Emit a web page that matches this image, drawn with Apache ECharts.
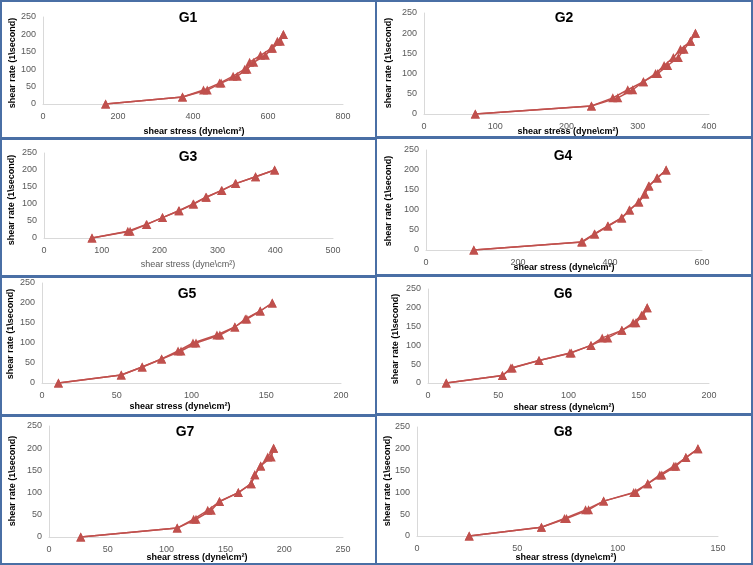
<!DOCTYPE html>
<html><head><meta charset="utf-8">
<script src="https://cdn.jsdelivr.net/npm/echarts@6/dist/echarts.min.js"></script>
<style>html,body{margin:0;padding:0;background:#fff}#c{width:753px;height:565px}</style>
</head><body><div id="c"></div>
<script>
// ---- data ----
const panelTitles = ['G1','G2','G3','G4','G5','G6','G7','G8'];
const shearRate = [0,20,40,60,80,100,120,140,160,180,200];
const g1Up   = [167,372,428,471,507,538,551,580,609,625,641];
const g1Down = [167,372,438,475,518,544,562,593,612,633,641];
const g2Up   = [72,235,265,286,308,325,337,350,360,374,381];
const g2Down = [72,235,272,293,308,328,342,357,365,374,381];
const g3Up   = [83,145,177,205,233,258,280,307,331,366,399];
const g3Down = [83,149,178,205,234,259,281,308,332,366,399];
const g4Up   = [104,338,366,395,425,442,462,475,484,502,522];
const g4Down = [104,340,367,396,426,443,463,476,485,503,522];
const g5Up   = [11,53,67,80,91,101,117,129,136,146,154];
const g5Down = [11,53,67,80,93,103,119,129,137,146,154];
const g6Up   = [13,53,59,79,101,116,124,138,146,152,156];
const g6Down = [13,53,60,79,102,116,128,138,148,153,156];
const g7Up   = [27,109,123,135,145,161,172,175,180,186,191];
const g7Down = [27,109,125,138,145,161,172,175,180,189,191];
const g8Up   = [26,62,73.5,84,93,108,115,121,128,134,140];
const g8Down = [26,62,74.5,85.5,93,109,115,122,129,134,140];
const xMaxes = [800,400,500,600,200,200,250,150];
const xIntervals = [200,100,100,200,50,50,50,50];
const yMax = 250, yInterval = 50;
const xAxisTitle = 'shear stress (dyne\\cm²)';
const yAxisTitle = 'shear rate (1\\second)';

const ups = [g1Up,g2Up,g3Up,g4Up,g5Up,g6Up,g7Up,g8Up];
const downs = [g1Down,g2Down,g3Down,g4Down,g5Down,g6Down,g7Down,g8Down];

// ---- layout ----
const layout = [
  {grid:[43,17,300,87],  title:[188,18],  xt:[194,132],   yt:[13,63],    xBold:true},
  {grid:[424,13,285,101],title:[564,18],  xt:[568,132],   yt:[389,63],   xBold:true},
  {grid:[44,153,289,85], title:[188,157], xt:[188,265],   yt:[12,200],   xBold:false},
  {grid:[426,150,276,100],title:[563,156],xt:[564,268],   yt:[389,201],  xBold:true},
  {grid:[42,283,299,100],title:[187,294], xt:[180,407],   yt:[11,334],   xBold:true},
  {grid:[428,289,281,94],title:[563,294], xt:[564,408],   yt:[396,339],  xBold:true},
  {grid:[49,426,294,111],title:[185,432], xt:[197,558],   yt:[13,481],   xBold:true},
  {grid:[417,427,301,109],title:[563,432],xt:[566,558],   yt:[388,481],  xBold:true}
];

const RED = '#c0504d';
const FONT = '"Liberation Sans", Arial, sans-serif';
const grid = [], xAxis = [], yAxis = [], series = [], graphic = [];

layout.forEach((p, i) => {
  grid.push({left:p.grid[0], top:p.grid[1], width:p.grid[2], height:p.grid[3], containLabel:false});
  xAxis.push({type:'value', gridIndex:i, min:0, max:xMaxes[i], interval:xIntervals[i],
    axisLine:{show:true, lineStyle:{color:'#d9d9d9', width:1}}, axisTick:{show:false}, splitLine:{show:false},
    axisLabel:{color:'#595959', fontSize:9, fontFamily:FONT, margin:8}});
  yAxis.push({type:'value', gridIndex:i, min:0, max:yMax, interval:yInterval,
    axisLine:{show:true, lineStyle:{color:'#d9d9d9', width:1}}, axisTick:{show:false}, splitLine:{show:false},
    axisLabel:{color:'#595959', fontSize:9, fontFamily:FONT, margin:7}});
  [ups[i], downs[i]].forEach(arr => {
    series.push({type:'line', xAxisIndex:i, yAxisIndex:i,
      data: arr.map((v, k) => [v, shearRate[k]]),
      symbol:'triangle', symbolSize:9, showSymbol:true,
      lineStyle:{color:RED, width:1.5}, itemStyle:{color:RED}, animation:false});
  });
  graphic.push({type:'text', x:p.title[0], y:p.title[1], silent:true,
    style:{text:panelTitles[i], font:'bold 14px ' + FONT, fill:'#000', align:'center', verticalAlign:'middle'}});
  graphic.push({type:'text', x:p.xt[0], y:p.xt[1], silent:true,
    style:{text:xAxisTitle, font:(p.xBold ? 'bold ' : '') + '9px ' + FONT, fill:p.xBold ? '#000' : '#595959', align:'center', verticalAlign:'middle'}});
  graphic.push({type:'text', x:p.yt[0], y:p.yt[1], rotation:Math.PI/2, silent:true,
    style:{text:yAxisTitle, font:'bold 9px ' + FONT, fill:'#000', align:'center', verticalAlign:'middle'}});
});

// panel borders
const BLUE = '#4a6fa5';
const leftRows = [0,138,276,415,564], rightRows = [0,137,275,414,564];
for (let r = 0; r < 4; r++) {
  graphic.push({type:'rect', silent:true, shape:{x:1, y:leftRows[r]+1, width:375, height:leftRows[r+1]-leftRows[r]-1},
    style:{fill:'none', stroke:BLUE, lineWidth:2}});
  graphic.push({type:'rect', silent:true, shape:{x:376, y:rightRows[r]+1, width:376, height:rightRows[r+1]-rightRows[r]-1},
    style:{fill:'none', stroke:BLUE, lineWidth:2}});
}

const chart = echarts.init(document.getElementById('c'), null, {renderer:'canvas'});
chart.setOption({animation:false, backgroundColor:'#fff', grid, xAxis, yAxis, series, graphic});
</script></body></html>
